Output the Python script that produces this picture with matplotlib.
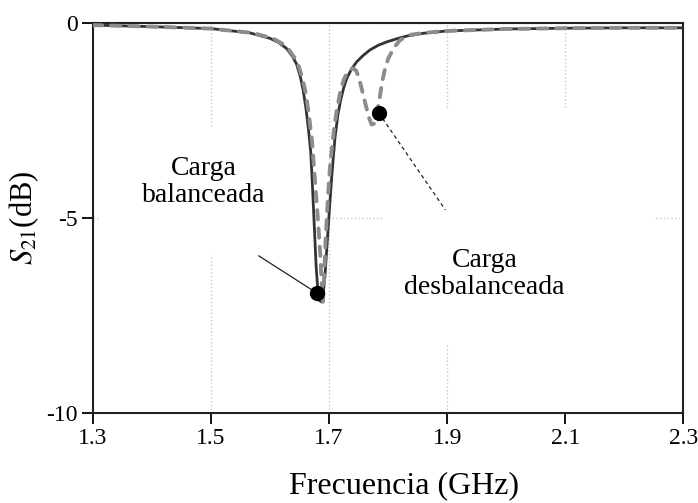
import matplotlib
matplotlib.use("Agg")
import matplotlib.pyplot as plt
from matplotlib.patches import Rectangle

plt.rcParams["font.family"] = ["Liberation Serif", "DejaVu Serif"]
plt.rcParams["mathtext.fontset"] = "stix"

# S21 con carga balanceada (linea continua)
f_bal = [1.30, 1.40, 1.50, 1.566, 1.600, 1.615, 1.628, 1.638, 1.645, 1.651,
         1.656, 1.661, 1.665, 1.669, 1.672, 1.675, 1.678, 1.681, 1.684, 1.687,
         1.690, 1.693, 1.697, 1.701, 1.705, 1.710, 1.715, 1.720, 1.725, 1.730,
         1.738, 1.747, 1.757, 1.769, 1.783, 1.798, 1.815, 1.832, 1.86, 1.90,
         2.00, 2.10, 2.20, 2.30]
s_bal = [-0.05, -0.09, -0.14, -0.25, -0.39, -0.50, -0.65, -0.85, -1.05, -1.35,
         -1.70, -2.20, -2.70, -3.30, -4.20, -5.20, -6.20, -6.85, -7.12, -7.15,
         -6.95, -6.50, -5.60, -4.70, -3.85, -2.95, -2.35, -1.95, -1.65, -1.42,
         -1.18, -0.99, -0.84, -0.69, -0.57, -0.48, -0.40, -0.33, -0.26, -0.20,
         -0.15, -0.13, -0.12, -0.12]

# S21 con carga desbalanceada (linea discontinua)
f_unb = [1.30, 1.40, 1.50, 1.57, 1.605, 1.620, 1.632, 1.642, 1.649, 1.655,
         1.660, 1.665, 1.671, 1.676, 1.681, 1.685, 1.688, 1.6895, 1.691, 1.694,
         1.698, 1.702, 1.705, 1.709, 1.713, 1.719, 1.725, 1.730, 1.736, 1.741,
         1.746, 1.750, 1.754, 1.758, 1.763, 1.767, 1.772, 1.776, 1.780, 1.783,
         1.786, 1.790, 1.795, 1.800, 1.806, 1.813, 1.820, 1.834, 1.86, 1.90,
         2.00, 2.10, 2.20, 2.30]
s_unb = [-0.05, -0.09, -0.14, -0.25, -0.39, -0.52, -0.68, -0.90, -1.12, -1.42,
         -1.75, -2.25, -3.00, -4.00, -5.00, -5.90, -6.80, -7.15, -6.80, -5.60,
         -4.50, -3.60, -3.20, -2.65, -2.25, -1.76, -1.45, -1.29, -1.19, -1.16,
         -1.22, -1.38, -1.60, -1.85, -2.15, -2.40, -2.60, -2.58, -2.40, -2.15,
         -1.90, -1.50, -1.16, -0.92, -0.74, -0.57, -0.44, -0.31, -0.25, -0.20,
         -0.15, -0.13, -0.12, -0.12]

# puntos marcados y extremo de cada linea guia
dot_f = [1.680, 1.784]
dot_s = [-6.93, -2.30]
guide_f = [1.581, 1.897]
guide_s = [-5.97, -4.79]

xticks = [1.3, 1.5, 1.7, 1.9, 2.1, 2.3]
yticks = [-10, -5, 0]

fig = plt.figure(figsize=(6.98, 5.03), dpi=100)
ax = fig.add_axes([0.133, 0.179, 0.846, 0.775])

ax.plot(f_bal, s_bal, color="#333333", lw=2.0, zorder=3)
ax.plot(f_unb, s_unb, color="#8c8c8c", lw=2.8, dashes=(2.4, 2.3),
        dash_capstyle="round", zorder=4)

ax.plot([guide_f[0], dot_f[0]], [guide_s[0], dot_s[0]], color="#222222", lw=0.9, zorder=5)
ax.plot([dot_f[1], guide_f[1]], [dot_s[1], guide_s[1]], color="#222222", lw=0.9,
        dashes=(3, 2.5), zorder=5)
ax.plot(dot_f, dot_s, "o", color="black", ms=10, zorder=6)

# fondos blancos de las etiquetas
ax.add_patch(Rectangle((0.012, 0.405), 0.38, 0.326, transform=ax.transAxes,
                       facecolor="white", edgecolor="none", zorder=1))
ax.add_patch(Rectangle((0.49, 0.174), 0.46, 0.603, transform=ax.transAxes,
                       facecolor="white", edgecolor="none", zorder=1))
ax.add_patch(Rectangle((0.65, 0.004), 0.30, 0.20, transform=ax.transAxes,
                       facecolor="white", edgecolor="none", zorder=1))

ax.text(1.488, -4.08, "Carga\nbalanceada", ha="center", va="center",
        fontsize=20, linespacing=1.1, zorder=7)
ax.text(1.963, -6.44, "Carga\ndesbalanceada", ha="center", va="center",
        fontsize=20, linespacing=1.1, zorder=7)

ax.set_xlim(1.3, 2.3)
ax.set_ylim(-10, 0)
ax.set_xticks(xticks)
ax.set_xticklabels([f"{t:.1f}" for t in xticks])
ax.set_yticks(yticks)
ax.set_yticklabels([str(t) for t in yticks])
ax.tick_params(labelsize=17, length=8, width=1.3, direction="out", pad=3)
ax.set_axisbelow(True)
ax.grid(True, color="#c8c8c8", ls=":", lw=1.0)

for sp in ax.spines.values():
    sp.set_linewidth(1.5)
    sp.set_color("#222222")

ax.set_xlabel("Frecuencia (GHz)", fontsize=23, labelpad=16, x=0.527)
ax.set_ylabel(r"$S_{21}$(dB)", fontsize=22, labelpad=4)

fig.savefig("out.png", dpi=100)
